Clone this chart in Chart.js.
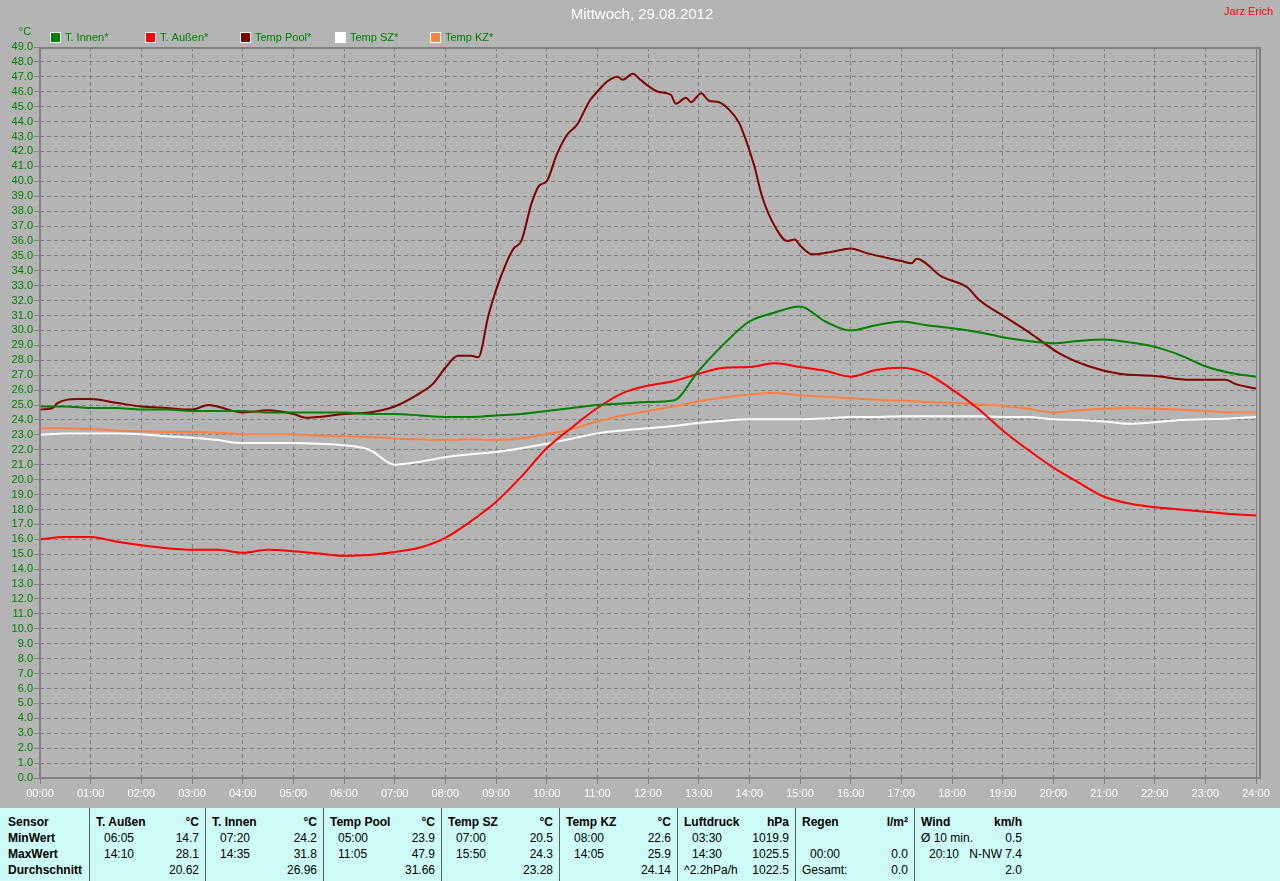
<!DOCTYPE html>
<html>
<head>
<meta charset="utf-8">
<title>Mittwoch, 29.08.2012</title>
<script src="https://cdn.jsdelivr.net/npm/chart.js"></script>
<style>
  body { margin: 0; background: #b4b4b4; width: 1280px; height: 881px; overflow: hidden;
         font-family: "Liberation Sans", Arial, sans-serif; }
  #wrap { position: absolute; left: 0; top: 0; width: 1280px; height: 808px; }
  #tab { position: absolute; left: 0; top: 808px; width: 1280px; height: 73px; background: #cdfbf8; font-size: 12px; color: #000; }
  .col { position: absolute; top: 0; height: 73px; border-left: 1px solid #606060; }
  .row { position: absolute; left: 6px; right: 7px; height: 16px; line-height: 16px;
         display: flex; justify-content: space-between; white-space: pre; }
  .r0 { top: 6px; font-weight: bold; }
  .r1 { top: 22px; }
  .r2 { top: 38px; }
  .r3 { top: 54px; }
  .t { padding-left: 8px; }
</style>
</head>
<body>
<div id="wrap"><canvas id="myChart" width="1280" height="808"></canvas></div>
<div id="tab"></div>
<script>
// half-hour grid used by four of the sensors
const hours = [0, 0.5, 1, 1.5, 2, 2.5, 3, 3.5, 4, 4.5, 5, 5.5, 6, 6.5, 7, 7.5, 8, 8.5, 9, 9.5,
  10, 10.5, 11, 11.5, 12, 12.5, 13, 13.5, 14, 14.5, 15, 15.5, 16, 16.5, 17, 17.5, 18, 18.5, 19, 19.5,
  20, 20.5, 21, 21.5, 22, 22.5, 23, 23.5, 24];

const tInnen = [24.9, 24.9, 24.8, 24.8, 24.7, 24.7, 24.6, 24.6, 24.6, 24.5, 24.5, 24.5, 24.5, 24.4, 24.4, 24.3,
  24.2, 24.2, 24.3, 24.4, 24.6, 24.8, 25.0, 25.1, 25.2, 25.3, 27.3, 29.1, 30.6, 31.2, 31.6, 30.6,
  30.0, 30.35, 30.6, 30.35, 30.15, 29.9, 29.55, 29.3, 29.15, 29.3, 29.4, 29.2, 28.9, 28.35, 27.6, 27.15, 26.9];

const tAussen = [16.0, 16.15, 16.15, 15.85, 15.6, 15.4, 15.3, 15.3, 15.1, 15.3, 15.2, 15.05, 14.9, 14.95, 15.15, 15.45,
  16.1, 17.2, 18.5, 20.2, 22.1, 23.5, 24.8, 25.8, 26.3, 26.6, 27.1, 27.5, 27.55, 27.8, 27.55, 27.3,
  26.9, 27.35, 27.5, 27.1, 26.05, 24.8, 23.3, 22.0, 20.8, 19.8, 18.85, 18.4, 18.15, 18.0, 17.85, 17.7, 17.6];

const tempSZ = [23.0, 23.1, 23.1, 23.1, 23.05, 22.9, 22.8, 22.65, 22.45, 22.45, 22.45, 22.4, 22.3, 22.0, 21.0, 21.2,
  21.5, 21.7, 21.85, 22.1, 22.4, 22.75, 23.1, 23.3, 23.45, 23.6, 23.8, 23.95, 24.05, 24.05, 24.05, 24.1,
  24.2, 24.2, 24.25, 24.25, 24.25, 24.25, 24.2, 24.2, 24.05, 24.0, 23.9, 23.75, 23.85, 24.0, 24.05, 24.1, 24.2];

const tempKZ = [23.45, 23.45, 23.4, 23.3, 23.25, 23.2, 23.2, 23.15, 23.05, 23.05, 23.05, 22.95, 22.9, 22.85, 22.75, 22.7,
  22.65, 22.7, 22.65, 22.75, 23.05, 23.4, 23.9, 24.3, 24.6, 24.9, 25.25, 25.5, 25.7, 25.8, 25.65, 25.55,
  25.45, 25.35, 25.3, 25.2, 25.15, 25.05, 24.95, 24.75, 24.5, 24.65, 24.75, 24.8, 24.75, 24.7, 24.6, 24.5, 24.5];

// pool sensor is noisier, so it has its own finer time list
const poolHours = [0, 0.25, 0.33, 0.75, 1.0, 1.5, 2.0, 2.5, 3.0, 3.33, 3.5, 4.0, 4.5, 5.0, 5.25, 5.5, 6.0, 6.5, 7.0, 7.5,
  7.75, 8.0, 8.25, 8.5, 8.65, 8.85, 9.0, 9.2, 9.35, 9.5, 9.7, 9.85, 10.0, 10.2, 10.4, 10.6, 10.85, 11.0, 11.2, 11.4,
  11.5, 11.7, 11.85, 12.0, 12.2, 12.45, 12.55, 12.75, 12.85, 13.05, 13.2, 13.4, 13.6, 13.8, 13.95, 14.1, 14.25, 14.5, 14.75, 14.9,
  15.0, 15.25, 15.6, 16.0, 16.3, 17.0, 17.2, 17.3, 17.8, 18.3, 18.55, 19.05, 19.55, 20.1, 20.7, 21.3, 22.0, 22.7, 23.4, 23.6, 24];
const tempPool = [24.7, 24.8, 25.1, 25.4, 25.4, 25.15, 24.9, 24.8, 24.7, 25.0, 24.9, 24.5, 24.65, 24.4, 24.15, 24.2, 24.4, 24.5, 24.9, 25.8,
  26.4, 27.5, 28.3, 28.3, 28.2, 31.0, 32.7, 34.5, 35.5, 36.0, 38.5, 39.7, 40.0, 41.8, 43.1, 43.8, 45.4, 46.0, 46.7, 47.0,
  46.8, 47.2, 46.8, 46.4, 46.0, 45.8, 45.2, 45.6, 45.3, 45.9, 45.4, 45.3, 44.8, 43.9, 42.6, 41.0, 39.0, 37.0, 36.0, 36.1,
  35.7, 35.1, 35.25, 35.5, 35.2, 34.65, 34.5, 34.8, 33.6, 32.9, 32.0, 30.9, 29.8, 28.5, 27.6, 27.1, 26.95, 26.7, 26.7, 26.4, 26.1];

const xTickLabels = ['00:00', '01:00', '02:00', '03:00', '04:00', '05:00', '06:00', '07:00', '08:00', '09:00', '10:00', '11:00',
  '12:00', '13:00', '14:00', '15:00', '16:00', '17:00', '18:00', '19:00', '20:00', '21:00', '22:00', '23:00', '24:00'];

const seriesNames = ['T. Innen*', 'T. Außen*', 'Temp Pool*', 'Temp SZ*', 'Temp KZ*'];
const seriesColors = ['#008000', '#ff0000', '#800000', '#ffffff', '#ff8040'];

// table under the chart: [left text, right text]
const tabHeads = [['T. Außen', '°C'], ['T. Innen', '°C'], ['Temp Pool', '°C'], ['Temp SZ', '°C'], ['Temp KZ', '°C'],
  ['Luftdruck', 'hPa'], ['Regen', 'l/m²'], ['Wind', 'km/h']];
const tabMin = [['06:05', '14.7'], ['07:20', '24.2'], ['05:00', '23.9'], ['07:00', '20.5'], ['08:00', '22.6'],
  ['03:30', '1019.9'], ['', ''], ['Ø 10 min.', '0.5']];
const tabMax = [['14:10', '28.1'], ['14:35', '31.8'], ['11:05', '47.9'], ['15:50', '24.3'], ['14:05', '25.9'],
  ['14:30', '1025.5'], ['00:00', '0.0'], ['20:10', 'N-NW 7.4']];
const tabAvg = [['', '20.62'], ['', '26.96'], ['', '31.66'], ['', '23.28'], ['', '24.14'],
  ['^2.2hPa/h', '1022.5'], ['Gesamt:', '0.0'], ['', '2.0']];
const tabLeft = [89, 205, 323, 441, 559, 677, 795, 914];
const tabWidth = [116, 118, 118, 118, 118, 118, 119, 114];

function pts(xs, ys) {
    return xs.map((x, i) => ({ x: x, y: ys[i] }));
}

// build table
const tab = document.getElementById('tab');
let html = '<div style="position:absolute;left:0;top:0;width:89px;height:73px;font-weight:bold">' +
    '<div class="row r0" style="left:8px">Sensor</div>' +
    '<div class="row r1" style="left:8px;font-weight:bold">MinWert</div>' +
    '<div class="row r2" style="left:8px;font-weight:bold">MaxWert</div>' +
    '<div class="row r3" style="left:8px;font-weight:bold">Durchschnitt</div></div>';
function cell(c, cls) {
    const isTime = /^\d\d:\d\d$/.test(c[0]);
    return '<div class="row ' + cls + '"><span' + (isTime ? ' class="t"' : '') + '>' + c[0] + '</span><span>' + c[1] + '</span></div>';
}
for (let i = 0; i < tabHeads.length; i++) {
    html += '<div class="col" style="left:' + tabLeft[i] + 'px;width:' + tabWidth[i] + 'px;' + (i == tabHeads.length - 1 ? 'border-left:1px solid #606060' : '') + '">';
    html += cell(tabHeads[i], 'r0') + cell(tabMin[i], 'r1') + cell(tabMax[i], 'r2') + cell(tabAvg[i], 'r3');
    html += '</div>';
}
tab.innerHTML = html;

const FONT = '"Liberation Sans", Arial, sans-serif';

const decor = {
    id: 'decor',
    afterDraw(chart) {
        const c = chart.ctx;
        const a = chart.chartArea;
        c.save();
        // frame
        c.strokeStyle = '#808080';
        c.lineWidth = 2;
        c.beginPath();
        c.moveTo(a.left, a.top + 1); c.lineTo(1261, a.top + 1);
        c.moveTo(a.left, a.top); c.lineTo(a.left, a.bottom);
        c.moveTo(a.left - 1, a.bottom); c.lineTo(1261, a.bottom);
        c.moveTo(1260, a.top); c.lineTo(1260, a.bottom);
        c.stroke();
        c.lineWidth = 1;
        c.beginPath();
        c.moveTo(a.right + 0.5, a.top); c.lineTo(a.right + 0.5, a.bottom);
        c.stroke();

        // title + author
        c.fillStyle = '#ffffff';
        c.font = '15px ' + FONT;
        c.textAlign = 'center';
        c.textBaseline = 'middle';
        c.fillText('Mittwoch, 29.08.2012', 642, 15);
        c.fillStyle = '#ff0000';
        c.font = '11px ' + FONT;
        c.textAlign = 'right';
        c.fillText('Jarz Erich', 1273, 12);

        // unit label
        c.fillStyle = '#008000';
        c.textAlign = 'center';
        c.fillText('°C', 25, 32);

        // legend
        c.textAlign = 'left';
        chart.data.datasets.forEach((ds, i) => {
            const x = 50 + i * 95;
            c.fillStyle = '#ffffff';
            c.fillRect(x, 32, 11, 11);
            c.fillStyle = ds.borderColor;
            c.fillRect(x + 1, 33, 9, 9);
            c.fillStyle = '#008000';
            c.fillText(ds.label, x + 15, 38);
        });
        c.restore();
    }
};

const xs = [hours, hours, poolHours, hours, hours];
const ys = [tInnen, tAussen, tempPool, tempSZ, tempKZ];

let myChart = document.getElementById('myChart').getContext('2d');
const lineChart = new Chart(myChart, {
    type: 'line',
    data: {
        datasets: seriesNames.map((name, i) => ({
            label: name,
            data: pts(xs[i], ys[i]),
            borderColor: seriesColors[i],
            backgroundColor: seriesColors[i],
            borderWidth: 2,
            pointRadius: 0,
            cubicInterpolationMode: 'monotone',
            fill: false
        }))
    },
    options: {
        responsive: false,
        animation: false,
        layout: { padding: { top: 47, right: 24, left: 0, bottom: 0 } },
        plugins: {
            legend: { display: false },
            tooltip: { enabled: false }
        },
        scales: {
            x: {
                type: 'linear',
                min: 0,
                max: 24,
                afterFit: (s) => { s.height = 30; },
                ticks: {
                    stepSize: 1,
                    autoSkip: false,
                    maxRotation: 0,
                    padding: 3,
                    color: '#ffffff',
                    font: { family: FONT, size: 11 },
                    callback: (v) => xTickLabels[v]
                },
                grid: { color: '#808080', lineWidth: 1, tickLength: 6, tickColor: '#808080', tickBorderDash: [] },
                border: { display: false, dash: [4, 3] }
            },
            y: {
                min: 0,
                max: 49,
                afterFit: (s) => { s.width = 40; },
                ticks: {
                    stepSize: 1,
                    autoSkip: false,
                    padding: 1,
                    color: '#008000',
                    font: { family: FONT, size: 11 },
                    callback: (v) => v.toFixed(1)
                },
                grid: { color: '#808080', lineWidth: 1, tickLength: 6, tickColor: '#808080', tickBorderDash: [] },
                border: { display: false, dash: [4, 3] }
            }
        }
    },
    plugins: [decor]
});
</script>
</body>
</html>
